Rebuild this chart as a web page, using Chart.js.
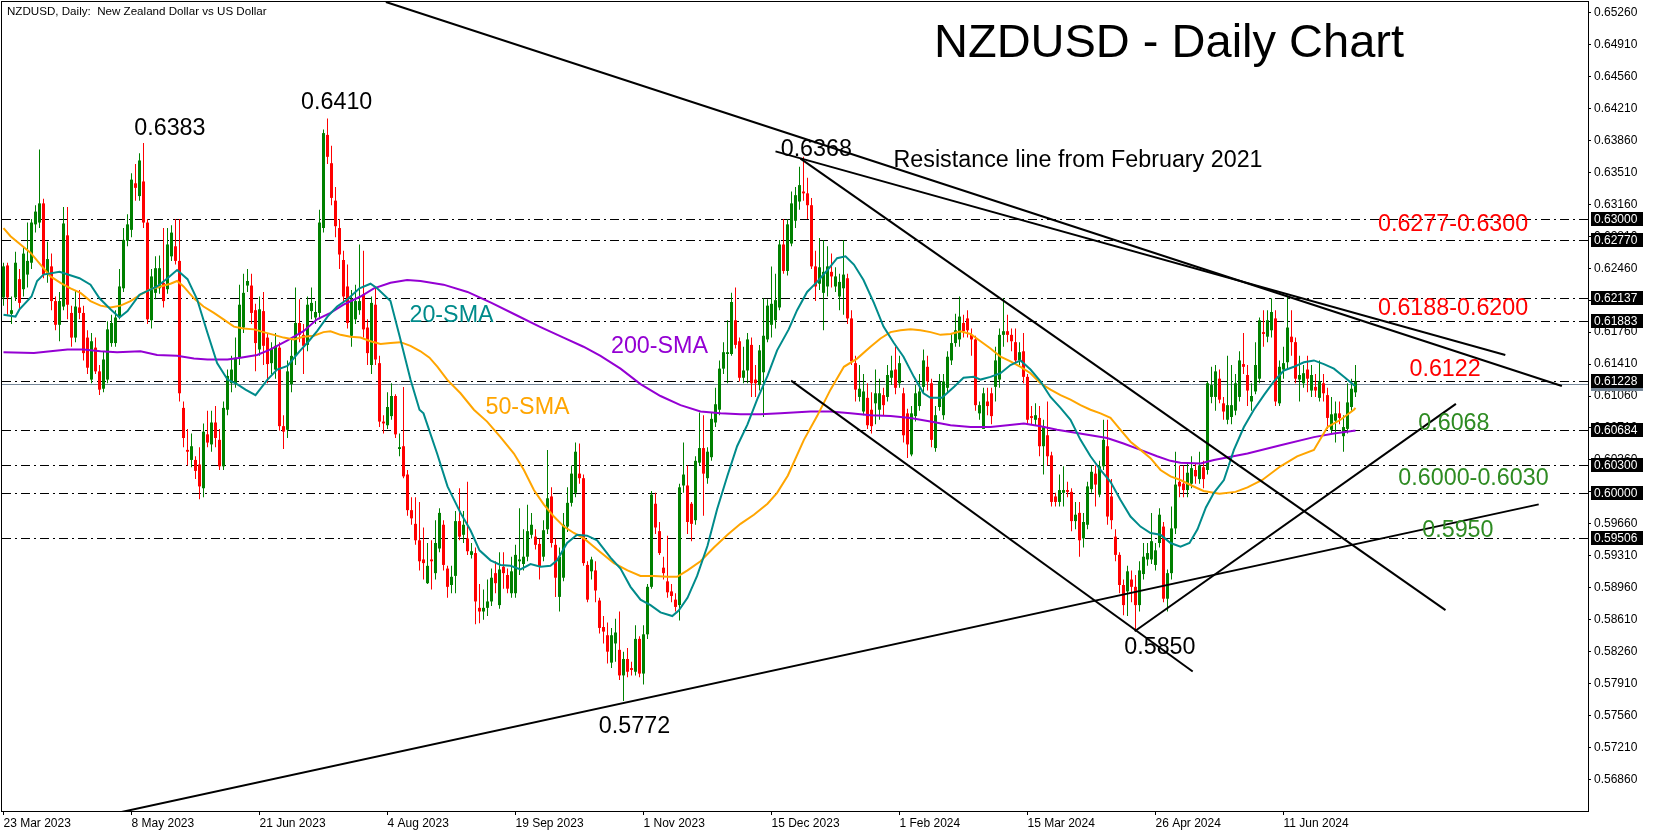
<!DOCTYPE html>
<html><head><meta charset="utf-8">
<script src="https://cdn.jsdelivr.net/npm/chart.js@4.4.0/dist/chart.umd.min.js"></script>
<style>html,body{margin:0;padding:0;background:#fff;}canvas{display:block;}</style>
</head><body>
<canvas id="c" width="1658" height="836"></canvas>
<script>
// ---------- DATA ----------
const openP = [
.6214,.6249,.6196,.6214,.6234,.6223,.6239,.6252,.6294,.6296,
.6317,.6239,.6248,.6210,.6184,.6204,.6282,.6197,.6170,.6203,
.6197,.6170,.6124,.6159,.6133,.6114,.6124,.6164,.6164,.6193,
.6224,.6276,.6288,.6339,.6325,.6341,.6296,.6189,.6219,.6224,
.6230,.6223,.6259,.6270,.6254,.6093,.6047,.6036,.6036,.6031,
.6005,.6064,.6053,.6077,.6058,.6029,.6091,.6120,.6120,.6148,
.6181,.6227,.6227,.6200,.6157,.6199,.6170,.6142,.6135,.6159,
.6073,.6069,.6119,.6150,.6186,.6173,.6162,.6199,.6192,.6197,
.6290,.6392,.6361,.6320,.6290,.6255,.6226,.6172,.6190,.6200,
.6217,.6181,.6140,.6206,.6142,.6078,.6074,.6084,.6106,.6048,
.6051,.6020,.5981,.5966,.5948,.5927,.5901,.5927,.5912,.5939,
.5965,.5917,.5899,.5909,.5969,.5954,.5950,.5932,.5934,.5874,
.5870,.5874,.5881,.5912,.5877,.5919,.5910,.5890,.5890,.5925,
.5922,.5930,.5954,.5952,.5944,.5930,.5960,.5996,.5943,.5886,
.5907,.5963,.5989,.6000,.6021,.6016,.5921,.5914,.5915,.5882,
.5853,.5844,.5814,.5835,.5828,.5800,.5818,.5808,.5804,.5840,
.5802,.5845,.5897,.5988,.5958,.5918,.5903,.5892,.5883,.5877,
.6008,.6008,.5988,.5970,.6033,.6049,.6016,.6039,.6077,.6091,
.6136,.6152,.6152,.6189,.6166,.6126,.6134,.6162,.6124,.6118,
.6132,.6168,.6184,.6189,.6203,.6272,.6243,.6273,.6298,.6319,
.6330,.6328,.6315,.6248,.6229,.6219,.6226,.6242,.6226,.6215,
.6224,.6235,.6191,.6142,.6105,.6089,.6104,.6091,.6098,.6091,
.6107,.6105,.6126,.6135,.6120,.6109,.6087,.6042,.6084,.6095,
.6116,.6138,.6120,.6049,.6094,.6085,.6115,.6145,.6164,.6168,
.6186,.6191,.6173,.6168,.6087,.6070,.6100,.6109,.6116,.6124,
.6173,.6177,.6173,.6165,.6145,.6155,.6127,.6084,.6080,.6082,
.6051,.6063,.6041,.5996,.5990,.6000,.6003,.6001,.5969,.5978,
.5950,.5965,.6004,.6021,.5998,.6029,.6051,.5996,.5952,.5932,
.5899,.5892,.5905,.5897,.5877,.5911,.5927,.5927,.5921,.5945,
.5963,.5884,.5912,.5961,.6012,.6010,.6003,.6010,.6025,.6015,
.6028,.6025,.6105,.6105,.6125,.6098,.6080,.6083,.6090,.6105,
.6141,.6129,.6100,.6111,.6125,.6176,.6171,.6178,.6191,.6098,
.6135,.6143,.6171,.6165,.6124,.6120,.6135,.6112,.6116,.6104,
.6120,.6107,.6069,.6079,.6087,.6062,.6070,.6094,.6110];
const highP = [
.6252,.6252,.6215,.6264,.6245,.6270,.6296,.6300,.6315,.6376,
.6322,.6275,.6262,.6215,.6220,.6313,.6313,.6205,.6222,.6222,
.6205,.6178,.6175,.6170,.6140,.6155,.6188,.6195,.6200,.6245,
.6290,.6305,.6350,.6360,.6372,.6383,.6300,.6245,.6259,.6260,
.6290,.6290,.6293,.6300,.6300,.6100,.6070,.6065,.6040,.6050,
.6076,.6090,.6090,.6095,.6070,.6100,.6135,.6150,.6170,.6228,
.6240,.6245,.6240,.6207,.6215,.6220,.6175,.6165,.6175,.6165,
.6085,.6145,.6170,.6225,.6212,.6185,.6215,.6225,.6210,.6310,
.6398,.6410,.6380,.6335,.6300,.6265,.6250,.6222,.6228,.6272,
.6265,.6190,.6215,.6225,.6150,.6085,.6110,.6120,.6108,.6065,
.6116,.6025,.5995,.5995,.5990,.5962,.5945,.5948,.5970,.5983,
.5970,.5920,.5920,.5980,.6005,.5980,.6012,.5945,.5940,.5900,
.5894,.5905,.5917,.5925,.5935,.5935,.5917,.5930,.5943,.5983,
.5960,.5987,.5978,.5960,.5950,.5970,.6047,.6006,.5950,.5940,
.5978,.6006,.6030,.6055,.6054,.6020,.5925,.5930,.5925,.5885,
.5865,.5858,.5852,.5862,.5870,.5826,.5830,.5815,.5855,.5843,
.5855,.5900,.6002,.6000,.5968,.5930,.5953,.5900,.5890,.6010,
.6055,.6030,.5990,.6040,.6088,.6085,.6050,.6088,.6115,.6145,
.6165,.6189,.6219,.6225,.6170,.6160,.6175,.6170,.6140,.6162,
.6213,.6212,.6248,.6240,.6277,.6300,.6300,.6330,.6335,.6357,
.6368,.6345,.6323,.6265,.6279,.6277,.6270,.6262,.6247,.6240,
.6277,.6240,.6200,.6150,.6140,.6130,.6120,.6110,.6135,.6125,
.6115,.6140,.6150,.6160,.6150,.6115,.6092,.6095,.6118,.6130,
.6157,.6150,.6125,.6095,.6130,.6130,.6155,.6175,.6196,.6215,
.6195,.6200,.6180,.6172,.6100,.6115,.6115,.6115,.6160,.6180,
.6213,.6195,.6180,.6180,.6165,.6175,.6130,.6095,.6098,.6095,
.6080,.6100,.6045,.6000,.6020,.6029,.6012,.6005,.5990,.5990,
.5978,.6012,.6030,.6030,.6035,.6080,.6080,.6015,.5960,.5935,
.5905,.5920,.5915,.5910,.5925,.5945,.5945,.5978,.5945,.5983,
.5968,.5916,.5985,.6045,.6030,.6030,.6032,.6040,.6032,.6045,
.6035,.6122,.6138,.6140,.6135,.6105,.6150,.6140,.6130,.6155,
.6175,.6140,.6120,.6165,.6192,.6200,.6200,.6213,.6200,.6145,
.6160,.6216,.6200,.6170,.6150,.6140,.6150,.6140,.6130,.6145,
.6130,.6115,.6105,.6100,.6100,.6085,.6120,.6125,.6140];
const lowP = [
.6205,.6195,.6185,.6210,.6200,.6215,.6225,.6245,.6285,.6290,
.6235,.6230,.6200,.6178,.6166,.6200,.6190,.6160,.6165,.6190,
.6145,.6130,.6120,.6130,.6107,.6110,.6120,.6160,.6160,.6190,
.6220,.6270,.6280,.6320,.6320,.6290,.6185,.6180,.6212,.6218,
.6203,.6218,.6254,.6250,.6100,.6050,.6030,.6028,.6015,.5993,
.5995,.6050,.6045,.6050,.6025,.6025,.6085,.6110,.6115,.6140,
.6175,.6220,.6185,.6133,.6150,.6140,.6120,.6130,.6125,.6068,
.6048,.6060,.6110,.6140,.6165,.6130,.6155,.6190,.6185,.6190,
.6285,.6360,.6315,.6280,.6245,.6210,.6180,.6160,.6185,.6195,
.6170,.6140,.6130,.6140,.6072,.6065,.6070,.6080,.6060,.6040,
.6016,.5975,.5965,.5943,.5915,.5905,.5900,.5894,.5905,.5935,
.5915,.5885,.5890,.5890,.5948,.5945,.5932,.5928,.5856,.5857,
.5861,.5865,.5876,.5890,.5873,.5895,.5890,.5885,.5885,.5910,
.5915,.5925,.5950,.5938,.5905,.5925,.5955,.5940,.5886,.5870,
.5903,.5957,.5985,.5995,.6010,.5920,.5880,.5905,.5880,.5846,
.5835,.5813,.5808,.5815,.5795,.5772,.5798,.5800,.5800,.5798,
.5790,.5840,.5895,.5955,.5932,.5905,.5885,.5880,.5870,.5860,
.6000,.5955,.5947,.5965,.6030,.5975,.6010,.6035,.6072,.6085,
.6130,.6120,.6150,.6158,.6122,.6120,.6120,.6105,.6105,.6112,
.6083,.6165,.6170,.6180,.6200,.6240,.6238,.6270,.6290,.6310,
.6320,.6300,.6245,.6210,.6222,.6178,.6215,.6225,.6220,.6200,
.6195,.6185,.6140,.6100,.6100,.6085,.6070,.6065,.6075,.6080,
.6085,.6100,.6118,.6108,.6115,.6055,.6038,.6040,.6078,.6090,
.6110,.6112,.6050,.6045,.6090,.6080,.6110,.6140,.6160,.6160,
.6170,.6170,.6150,.6090,.6080,.6070,.6085,.6075,.6100,.6115,
.6160,.6165,.6155,.6140,.6140,.6120,.6075,.6075,.6074,.6040,
.6020,.6030,.5985,.5985,.5985,.5985,.5995,.5958,.5960,.5930,
.5940,.5960,.6000,.5985,.5995,.6025,.5965,.5960,.5925,.5890,
.5866,.5865,.5880,.5850,.5870,.5905,.5920,.5922,.5915,.5940,
.5880,.5870,.5905,.5955,.5995,.5995,.5995,.6005,.6010,.6010,
.6005,.6020,.6098,.6090,.6098,.6080,.6075,.6075,.6085,.6100,
.6130,.6095,.6090,.6108,.6120,.6160,.6165,.6170,.6095,.6095,
.6125,.6135,.6150,.6120,.6100,.6115,.6110,.6105,.6105,.6100,
.6100,.6070,.6065,.6055,.6075,.6045,.6065,.6090,.6105];
const closeP = [
.6248,.6214,.6200,.6252,.6208,.6262,.6254,.6296,.6308,.6317,
.6239,.6256,.6210,.6184,.6210,.6295,.6206,.6170,.6204,.6197,
.6153,.6137,.6166,.6133,.6113,.6146,.6179,.6186,.6192,.6226,
.6277,.6294,.6343,.6334,.6364,.6296,.6190,.6237,.6246,.6246,
.6210,.6272,.6285,.6254,.6109,.6060,.6045,.6051,.6024,.6007,
.6067,.6055,.6077,.6060,.6029,.6093,.6128,.6135,.6148,.6206,
.6219,.6232,.6197,.6164,.6201,.6161,.6141,.6158,.6161,.6073,
.6067,.6133,.6150,.6186,.6173,.6161,.6206,.6208,.6198,.6296,
.6394,.6368,.6323,.6292,.6261,.6215,.6186,.6212,.6210,.6210,
.6179,.6153,.6208,.6146,.6078,.6076,.6094,.6106,.6064,.6050,
.6018,.5981,.5972,.5948,.5925,.5923,.5920,.5925,.5945,.5978,
.5921,.5897,.5908,.5969,.5952,.5965,.5936,.5936,.5881,.5870,
.5874,.5881,.5907,.5901,.5916,.5912,.5895,.5914,.5932,.5927,
.5930,.5958,.5965,.5943,.5919,.5959,.5994,.5945,.5907,.5930,
.5965,.5989,.6021,.6045,.6016,.5923,.5883,.5927,.5893,.5852,
.5848,.5826,.5844,.5847,.5800,.5818,.5804,.5806,.5840,.5802,
.5845,.5897,.5998,.5962,.5934,.5912,.5891,.5887,.5875,.6006,
.6020,.5968,.5966,.6035,.6049,.6021,.6045,.6081,.6097,.6136,
.6154,.6154,.6209,.6162,.6126,.6134,.6168,.6120,.6120,.6156,
.6172,.6205,.6207,.6211,.6272,.6243,.6294,.6317,.6326,.6337,
.6328,.6315,.6248,.6226,.6247,.6242,.6248,.6237,.6237,.6231,
.6239,.6191,.6144,.6113,.6114,.6111,.6074,.6073,.6109,.6109,
.6096,.6129,.6134,.6115,.6142,.6063,.6053,.6087,.6109,.6111,
.6145,.6122,.6058,.6085,.6122,.6122,.6149,.6164,.6178,.6193,
.6177,.6178,.6168,.6096,.6096,.6109,.6095,.6084,.6145,.6173,
.6177,.6173,.6166,.6145,.6154,.6127,.6080,.6082,.6085,.6051,
.6073,.6040,.5990,.5990,.6003,.6003,.6001,.5969,.5976,.5948,
.5968,.6007,.6023,.6009,.6029,.6058,.5974,.5970,.5932,.5899,
.5877,.5914,.5897,.5877,.5915,.5930,.5934,.5947,.5937,.5976,
.5884,.5912,.5961,.6009,.6007,.6003,.6022,.6027,.6018,.6030,
.6015,.6120,.6118,.6133,.6102,.6089,.6096,.6096,.6120,.6145,
.6138,.6112,.6106,.6140,.6189,.6174,.6189,.6198,.6100,.6138,
.6142,.6181,.6165,.6125,.6129,.6131,.6125,.6129,.6112,.6122,
.6109,.6082,.6086,.6087,.6082,.6072,.6099,.6114,.6122];

const sma20Bars = [0,3,4,7,8.4,10,14,19,21.75,24,26.75,29,31,34,38.4,41,43.4,46,48.4,51,53.4,56,58.4,60.5,63,66,68.4,71,74,76.3,78.4,81,83.4,86,89,91.75,93.4,96.75,99,101.75,104,105,108.4,111,114.25,116.75,119,121.75,124.25,126.75,129.25,131.75,134.25,136.75,138.4,140.9,143.4,145.9,148.4,151.75,154.25,156.75,159.25,161.75,164.25,167.2,168.8,171,173.4,176,178.4,181,183.4,186,188.4,191,193.4,196.3,198.4,200.9,203.4,206,208.4,210.5,212.6,215,217.6,220,222.6,225,227.6,230,231.75,234.6,237.6,240,242.6,244.25,246.75,249.25,251.75,254.25,256.75,259.25,261.75,264.25,266.75,269.25,271.75,274.25,276.75,279.25,281.75,284.25,286.75,289.25,291.75,294.25,296.5,298.5,300.6,302.6,305.1,307.6,310.1,312.6,315.1,317.6,320.1,322.6,325.1,327.6,330.1,332.6,335.1,337.6,338];
const sma20Vals = [.6195,.6193,.6201,.6215,.6232,.6239,.6242,.6235,.6228,.6213,.6201,.6192,.6199,.6217,.6226,.6235,.6244,.6234,.6212,.6175,.6142,.6124,.6119,.6113,.6107,.6124,.6135,.6139,.6155,.6166,.6177,.6193,.6204,.6212,.6224,.6229,.6224,.6210,.6172,.6124,.6091,.6087,.6043,.6007,.5978,.5959,.5937,.5926,.5921,.5920,.5916,.5922,.5919,.5920,.5926,.5945,.5954,.5953,.5948,.5929,.5917,.5897,.5883,.5877,.5869,.5865,.5871,.5885,.5909,.5942,.5982,.6019,.6051,.6075,.6102,.6128,.6156,.6179,.6200,.6220,.6231,.6244,.6257,.6259,.6250,.6233,.6208,.6182,.6164,.6149,.6127,.6109,.6104,.6104,.6116,.6126,.6127,.6124,.6127,.6131,.6140,.6145,.6135,.6122,.6105,.6093,.6080,.6058,.6040,.6025,.6012,.5992,.5974,.5963,.5956,.5954,.5945,.5941,.5945,.5960,.5984,.6000,.6014,.6047,.6072,.6091,.6107,.6122,.6134,.6138,.6143,.6145,.6141,.6136,.6127,.6118,.6117];

const sma50Bars = [0,1.75,4.25,6.75,9.25,11.75,14.25,16.75,19.25,21.75,24.25,26.75,29.25,31.75,34.25,36.75,39.25,41.75,43.4,45,47.6,50,52.6,55,57.6,60,62.6,65,67.6,70,72.6,75,77.6,80,81.75,84.25,86.75,89.25,91.75,94.25,96.75,99.25,101.75,104.25,106.5,108.5,110.9,114.25,117.6,120.9,124.25,127.6,130.1,132.6,135.1,137.6,140.1,142.6,145.1,147.6,149.25,152.6,156,159.25,162.6,166,168.4,171,174.25,177.6,181,184.25,187.6,191,193.4,196.1,200.1,203.4,206.75,210.1,213.4,216.75,219.25,221.75,224.25,226.75,229.25,231.75,234.25,236.75,239.25,241.75,244.25,246.75,249.25,251.75,254.25,256.75,259.25,261.75,264.25,266.75,269.25,271.75,274.25,276.75,279.25,281.75,284.25,286.75,289.25,291.75,294.25,297,300,304,308,311,314.7,319.25,323.4,327.6,331,334.25,337.6,338];
const sma50Vals = [.6290,.6281,.6272,.6263,.6250,.6237,.6230,.6224,.6219,.6210,.6205,.6203,.6205,.6210,.6217,.6223,.6226,.6229,.6232,.6226,.6213,.6204,.6197,.6190,.6182,.6180,.6179,.6176,.6173,.6170,.6168,.6171,.6172,.6176,.6177,.6173,.6171,.6170,.6166,.6163,.6164,.6165,.6161,.6155,.6148,.6138,.6124,.6109,.6091,.6078,.6061,.6043,.6025,.6003,.5987,.5974,.5963,.5956,.5950,.5941,.5935,.5923,.5915,.5909,.5909,.5908,.5908,.5915,.5925,.5940,.5954,.5966,.5976,.5988,.6000,.6019,.6058,.6084,.6113,.6138,.6147,.6160,.6169,.6176,.6178,.6179,.6178,.6176,.6173,.6174,.6177,.6174,.6166,.6158,.6149,.6144,.6138,.6131,.6120,.6113,.6107,.6102,.6096,.6091,.6087,.6082,.6069,.6056,.6047,.6038,.6025,.6018,.6014,.6008,.6002,.5999,.6001,.6006,.6014,.6029,.6040,.6047,.6072,.6080,.6091,.6093];

const sma200Bars = [0,7.6,11.75,16,20,24.25,28.4,34.25,38.4,43.4,47.6,51,56,59.25,63.4,66.75,71,75,78.4,81.75,85,89.25,92.6,96.75,100.9,104.25,110,116,122,128,134,140,145,149.25,154.25,159.25,164.25,169.25,174.25,179.25,184.25,189.25,194.25,201.75,206.75,211.75,216.75,221.75,226.75,231.75,236.75,241.75,246.75,251,255.1,259.25,263.4,267.6,271.75,275.9,280,284.25,288.4,291.75,294.25,299.25,302.6,311,319.25,327.6,332.6,337.6,338];
const sma200Vals = [.6154,.6153,.6155,.6157,.6157,.6155,.6154,.6155,.6151,.6150,.6147,.6146,.6146,.6148,.6151,.6157,.6167,.6177,.6190,.6197,.6206,.6215,.6224,.6230,.6233,.6232,.6228,.6220,.6208,.6195,.6182,.6170,.6160,.6150,.6136,.6119,.6106,.6096,.6089,.6087,.6086,.6086,.6087,.6089,.6089,.6087,.6085,.6084,.6082,.6078,.6074,.6072,.6072,.6074,.6076,.6073,.6069,.6066,.6063,.6060,.6054,.6047,.6040,.6035,.6033,.6032,.6036,.6043,.6052,.6061,.6065,.6068,.6068];

// trend lines (bar index / price of each end)
const trendStartBar   = [95.6, 193.0, 199.25, 196.9, 29.5, 282.8];
const trendStartPrice = [.65376, .63740, .63660, .61228, .56504, .58483];
const trendEndBar     = [389.6, 375.45, 360.5, 297.3, 383.8, 363.1];
const trendEndPrice   = [.61170, .61510, .58715, .58043, .59873, .60974];

// horizontal levels
const levelValues = [0.63, 0.6277, 0.62137, 0.61883, 0.61228, 0.60684, 0.603, 0.6, 0.59506];
const bidPrice = 0.6119;

// axes
const xTickBars = [0,32,64,96,128,160,192,224,256,288,320];
const xTickLabels = ['23 Mar 2023','8 May 2023','21 Jun 2023','4 Aug 2023','19 Sep 2023','1 Nov 2023','15 Dec 2023','1 Feb 2024','15 Mar 2024','26 Apr 2024','11 Jun 2024'];
const yTickValues = [0.5686,0.5721,0.5756,0.5791,0.5826,0.5861,0.5896,0.5931,0.5966,0.6001,0.6036,0.6071,0.6106,0.6141,0.6176,0.6211,0.6246,0.6281,0.6316,0.6351,0.6386,0.6421,0.6456,0.6491,0.6526];

// annotations
const annTexts  = ['0.6383','0.6410','0.6368','Resistance line from February 2021','0.6277-0.6300','0.6188-0.6200','0.6122','0.6068','0.6000-0.6030','0.5950','0.5850','0.5772','20-SMA','50-SMA','200-SMA'];
const annBars   = [41.6, 83.3, 203.2, 222.5, 362.4, 362.4, 360.4, 362.6, 367.5, 363.6, 289.1, 157.75, 112.0, 131.0, 164.0];
const annPrices = [.6399, .6427, .6376, .6364, .6294, .6202, .6135, .6076, .6016, .5959, .5830, .5744, .6194, .6093, .6160];

// ---------- STYLE ----------
const GREEN = '#008000', RED = '#ff0000';
const TEAL = '#008b8b', ORANGE = '#ffa500', PURPLE = '#9400d3';
const ANN_GREEN = '#2e8b22';
const annColors = ['#000','#000','#000','#000',RED,RED,RED,ANN_GREEN,ANN_GREEN,ANN_GREEN,'#000','#000',TEAL,ORANGE,PURPLE];
const annAlign = ['center','center','center','left','center','center','center','center','center','center','center','center','center','center','center'];
const FONT = 'Liberation Sans, Arial, sans-serif';

const idx = closeP.map((_, i) => i);
const candleColors = closeP.map((c, i) => c >= openP[i] ? GREEN : RED);
const pts = (bs, vs) => bs.map((b, i) => ({x: b, y: vs[i]}));

const datasets = [
  {type:'bar', data: idx.map(i => ({x:i, y:[lowP[i], highP[i]]})), backgroundColor: candleColors,
   barThickness:1, maxBarThickness:1, grouped:false, inflateAmount:0, borderWidth:0, order:20},
  {type:'bar', data: idx.map(i => ({x:i, y:[openP[i], closeP[i]]})), backgroundColor: candleColors,
   barThickness:3, maxBarThickness:3, grouped:false, inflateAmount:0, borderWidth:0, minBarLength:1, order:19},
  {type:'line', data: pts(sma200Bars, sma200Vals), borderColor: PURPLE, borderWidth:2, pointRadius:0, tension:0, order:8},
  {type:'line', data: pts(sma50Bars, sma50Vals), borderColor: ORANGE, borderWidth:2, pointRadius:0, tension:0, order:7},
  {type:'line', data: pts(sma20Bars, sma20Vals), borderColor: TEAL, borderWidth:2, pointRadius:0, tension:0, order:6}
];
trendStartBar.forEach((b, i) => {
  datasets.push({type:'line', data:[{x:b, y:trendStartPrice[i]}, {x:trendEndBar[i], y:trendEndPrice[i]}],
    borderColor:'#000', borderWidth:2, pointRadius:0, tension:0, order:1});
});

const overlay = {
  id: 'overlay',
  beforeDatasetsDraw(chart) {
    const {ctx, chartArea: ca, scales: {y}} = chart;
    ctx.save();
    ctx.lineWidth = 1;
    ctx.strokeStyle = '#778899';
    let yy = Math.round(y.getPixelForValue(bidPrice)) + 0.5;
    ctx.beginPath(); ctx.moveTo(ca.left, yy); ctx.lineTo(ca.right, yy); ctx.stroke();
    ctx.strokeStyle = '#000';
    ctx.setLineDash([9,4,2,4]);
    levelValues.forEach(v => {
      const py = Math.round(y.getPixelForValue(v)) + 0.5;
      ctx.beginPath(); ctx.moveTo(ca.left, py); ctx.lineTo(ca.right, py); ctx.stroke();
    });
    ctx.restore();
  },
  afterDatasetsDraw(chart) {
    const {ctx, scales: {x, y}} = chart;
    ctx.save();
    ctx.font = '23.3px ' + FONT;
    ctx.textBaseline = 'middle';
    annTexts.forEach((t, i) => {
      ctx.fillStyle = annColors[i];
      ctx.textAlign = annAlign[i];
      ctx.fillText(t, x.getPixelForValue(annBars[i]), y.getPixelForValue(annPrices[i]));
    });
    ctx.restore();
  },
  afterDraw(chart) {
    const {ctx, chartArea: ca, scales: {y}} = chart;
    ctx.save();
    ctx.strokeStyle = '#000'; ctx.lineWidth = 1;
    ctx.strokeRect(ca.left - 0.5, ca.top - 0.5, ca.right - ca.left + 1, ca.bottom - ca.top + 1);
    ctx.font = '12px ' + FONT;
    ctx.textBaseline = 'middle'; ctx.textAlign = 'left';
    const by = Math.round(y.getPixelForValue(bidPrice));
    ctx.fillStyle = '#778899';
    ctx.fillRect(ca.right + 3, by - 7, 52, 14);
    levelValues.forEach(v => {
      const py = Math.round(y.getPixelForValue(v));
      ctx.fillStyle = '#000';
      ctx.fillRect(ca.right + 3, py - 7, 52, 14);
      ctx.fillStyle = '#fff';
      ctx.fillText(v.toFixed(5), ca.right + 6, py + 0.5);
    });
    ctx.fillStyle = '#000';
    ctx.font = '11.6px ' + FONT;
    ctx.fillText('NZDUSD, Daily:  New Zealand Dollar vs US Dollar', 7, 12);
    ctx.font = '47px ' + FONT;
    ctx.textAlign = 'center';
    ctx.textBaseline = 'alphabetic';
    ctx.fillText('NZDUSD - Daily Chart', 1169, 57);
    ctx.restore();
  }
};

new Chart(document.getElementById('c'), {
  type: 'bar',
  data: { datasets },
  options: {
    responsive: false,
    animation: false,
    devicePixelRatio: 1,
    layout: { padding: { left: 2, top: 2, right: 0, bottom: 0 } },
    plugins: { legend: { display: false }, tooltip: { enabled: false } },
    scales: {
      x: {
        type: 'linear', min: -0.375, max: 396.125, offset: false,
        grid: { drawOnChartArea: false, drawTicks: true, tickLength: 4, color: '#000', offset: false },
        border: { display: false },
        afterBuildTicks: s => { s.ticks = xTickBars.map(v => ({value: v})); },
        afterFit: s => { s.height = 25; s.paddingLeft = 0; s.paddingRight = 0; },
        ticks: { autoSkip: false, maxRotation: 0, minRotation: 0, align: 'start', padding: 1,
                 color: '#000', font: { family: FONT, size: 12 },
                 callback: (v, i) => xTickLabels[i] }
      },
      y: {
        type: 'linear', position: 'right', min: 0.565148, max: 0.653757,
        grid: { drawOnChartArea: false, drawTicks: true, tickLength: 3, color: '#000' },
        border: { display: false },
        afterBuildTicks: s => { s.ticks = yTickValues.map(v => ({value: v})); },
        afterFit: s => { s.width = 70; s.paddingTop = 0; s.paddingBottom = 0; },
        ticks: { autoSkip: false, padding: 3, color: '#000', font: { family: FONT, size: 12 },
                 callback: v => v.toFixed(5) }
      }
    }
  },
  plugins: [overlay]
});
</script>
</body></html>
